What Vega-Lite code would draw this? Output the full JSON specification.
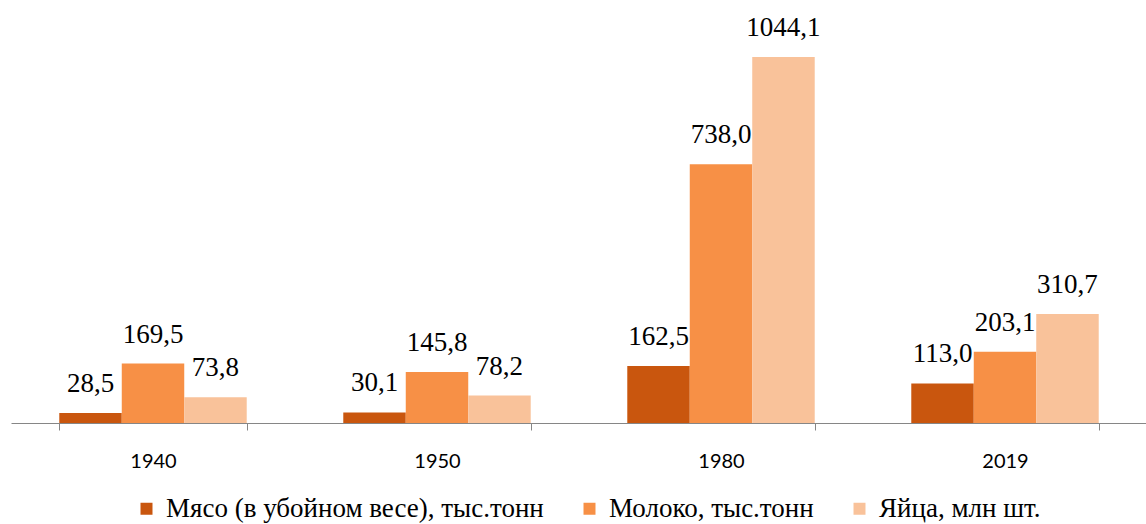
{
  "$schema": "https://vega.github.io/schema/vega-lite/v6.json",
  "width": 1136,
  "height": 413,
  "autosize": {"type": "none"},
  "padding": {"left": 11, "top": 10, "right": 0, "bottom": 101},
  "background": "white",
  "config": {"view": {"stroke": null}},
  "data": {
    "values": [
      {"year": "1940", "series": "Мясо (в убойном весе), тыс.тонн", "value": 28.5, "label": "28,5"},
      {"year": "1940", "series": "Молоко, тыс.тонн", "value": 169.5, "label": "169,5"},
      {"year": "1940", "series": "Яйца, млн шт.", "value": 73.8, "label": "73,8"},
      {"year": "1950", "series": "Мясо (в убойном весе), тыс.тонн", "value": 30.1, "label": "30,1"},
      {"year": "1950", "series": "Молоко, тыс.тонн", "value": 145.8, "label": "145,8"},
      {"year": "1950", "series": "Яйца, млн шт.", "value": 78.2, "label": "78,2"},
      {"year": "1980", "series": "Мясо (в убойном весе), тыс.тонн", "value": 162.5, "label": "162,5"},
      {"year": "1980", "series": "Молоко, тыс.тонн", "value": 738.0, "label": "738,0"},
      {"year": "1980", "series": "Яйца, млн шт.", "value": 1044.1, "label": "1044,1"},
      {"year": "2019", "series": "Мясо (в убойном весе), тыс.тонн", "value": 113.0, "label": "113,0"},
      {"year": "2019", "series": "Молоко, тыс.тонн", "value": 203.1, "label": "203,1"},
      {"year": "2019", "series": "Яйца, млн шт.", "value": 310.7, "label": "310,7"}
    ]
  },
  "encoding": {
    "x": {
      "field": "year", "type": "nominal", "title": null,
      "scale": {"paddingInner": 0.34, "paddingOuter": 0.17},
      "axis": {
        "labelAngle": 0, "labelFont": "Lato", "labelFontSize": 20, "labelColor": "#000000",
        "domainColor": "#868686", "tickColor": "#868686", "tickSize": 7, "tickBand": "extent",
        "labelPadding": 21, "grid": false
      }
    },
    "xOffset": {
      "field": "series", "type": "nominal",
      "sort": ["Мясо (в убойном весе), тыс.тонн", "Молоко, тыс.тонн", "Яйца, млн шт."],
      "scale": {"paddingInner": 0, "paddingOuter": 0}
    },
    "y": {
      "field": "value", "type": "quantitative", "title": null,
      "scale": {"domain": [0, 1178], "nice": false},
      "axis": null
    }
  },
  "layer": [
    {
      "mark": {"type": "bar"},
      "encoding": {
        "color": {
          "field": "series", "type": "nominal",
          "sort": ["Мясо (в убойном весе), тыс.тонн", "Молоко, тыс.тонн", "Яйца, млн шт."],
          "scale": {
            "domain": ["Мясо (в убойном весе), тыс.тонн", "Молоко, тыс.тонн", "Яйца, млн шт."],
            "range": ["#C9560E", "#F79046", "#F9C29A"]
          },
          "legend": {
            "orient": "none", "legendX": 122, "legendY": 485, "direction": "horizontal", "title": null,
            "labelFont": "Liberation Serif", "labelFontSize": 27, "labelColor": "#000000",
            "symbolType": "square", "symbolSize": 144, "symbolStrokeWidth": 0,
            "columnPadding": 32, "labelLimit": 600, "labelOffset": 6
          }
        }
      }
    },
    {
      "mark": {"type": "text", "baseline": "bottom", "dy": -15, "font": "Liberation Serif", "fontSize": 27, "color": "#000000"},
      "encoding": {"text": {"field": "label"}}
    }
  ]
}
